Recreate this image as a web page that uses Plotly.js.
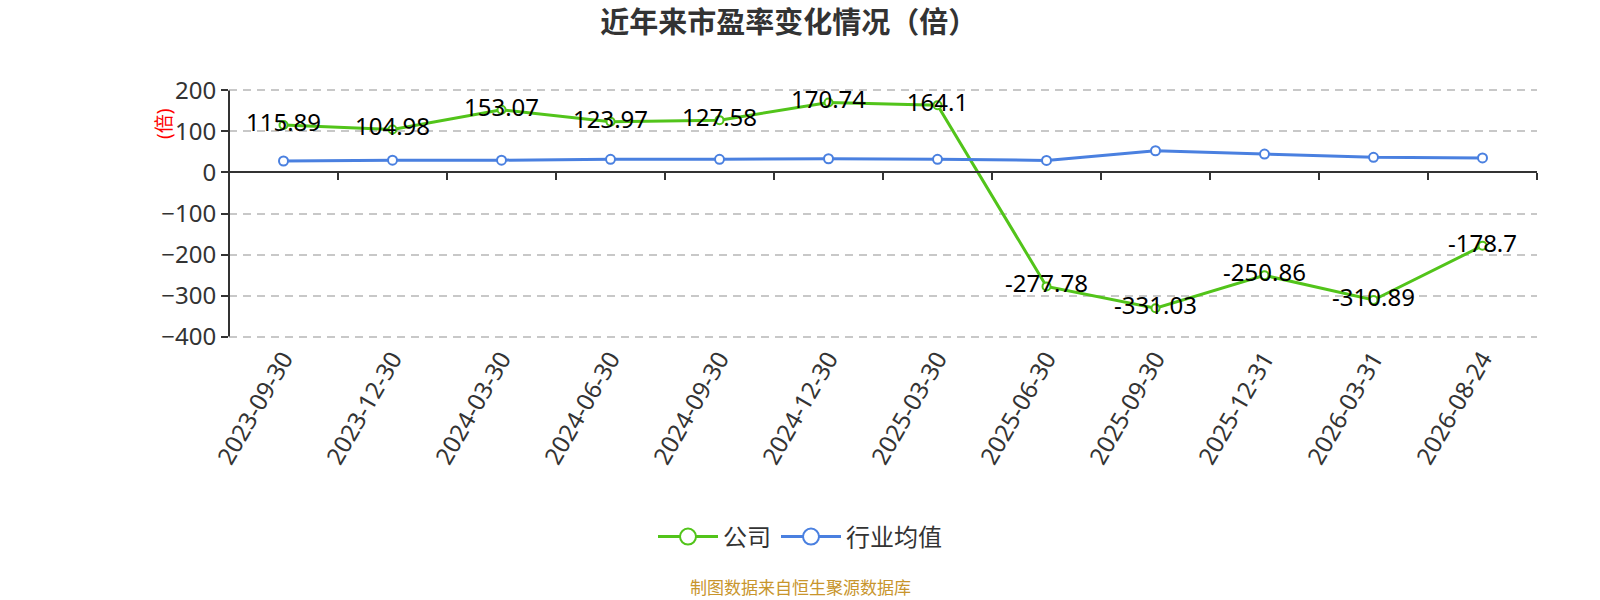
<!DOCTYPE html>
<html>
<head>
<meta charset="utf-8">
<script src="https://cdn.plot.ly/plotly-3.0.1.min.js"></script>
<style>
  html,body{margin:0;padding:0;background:#fff;}
  #chart{width:1600px;height:600px;}
</style>
</head>
<body>
<div id="chart"></div>
<script>
// dates along the x axis
const dates = ["2023-09-30","2023-12-30","2024-03-30","2024-06-30","2024-09-30","2024-12-30",
               "2025-03-30","2025-06-30","2025-09-30","2025-12-31","2026-03-31","2026-08-24"];
// company PE
const company = [115.89,104.98,153.07,123.97,127.58,170.74,164.1,-277.78,-331.03,-250.86,-310.89,-178.7];
// industry average PE
const industry = [28,30,30,32,32,33.5,32,29.5,53,45,37,35.5];

const yTicks = [-400,-300,-200,-100,0,100,200];
// a little padding so plotly keeps the end gridlines
const yMin = -406, yMax = 206;

const green = "#52c41a";
const blue = "#4a80e0";
const font = "Noto Sans, Noto Sans CJK SC, sans-serif";

let traces = [
  {x:dates, y:company, name:"公司", type:"scatter", mode:"lines+markers+text",
   line:{color:green,width:3}, showlegend:false,
   marker:{symbol:"circle",size:8,color:"#fff",line:{color:green,width:2}},
   text:company.map(v=>String(v)), textposition:"middle center",
   textfont:{family:font,size:24,color:"#000"}, hoverinfo:"x+y"},
  {x:dates, y:industry, name:"行业均值", type:"scatter", mode:"lines+markers",
   line:{color:blue,width:3}, showlegend:false,
   marker:{symbol:"circle",size:9,color:"#fff",line:{color:blue,width:2}}, hoverinfo:"x+y"},
  // legend entries with the bigger symbol
  {x:[null], y:[null], xaxis:"x2", name:"公司", type:"scatter", mode:"lines+markers",
   line:{color:green,width:3}, marker:{symbol:"circle",size:16,color:"#fff",line:{color:green,width:2}}},
  {x:[null], y:[null], xaxis:"x2", name:"行业均值", type:"scatter", mode:"lines+markers",
   line:{color:blue,width:3}, marker:{symbol:"circle",size:16,color:"#fff",line:{color:blue,width:2}}}
];

let layout = {
  width:1600, height:600,
  margin:{l:229, r:63, t:88, b:261},
  paper_bgcolor:"#fff", plot_bgcolor:"#fff",
  font:{family:font, color:"#333"},
  title:{text:"近年来市盈率变化情况（倍）", x:0.493, xanchor:"center", y:0.962, yanchor:"middle",
         font:{family:font,size:29,color:"#333",weight:"bold"}},
  xaxis:{type:"category", range:[-0.5,11.5], showline:false, showgrid:false, zeroline:false,
         ticks:"", tickangle:-60, tickfont:{size:24,color:"#333"}},
  xaxis2:{overlaying:"x", anchor:"free", position:(0-yMin)/(yMax-yMin), type:"linear", range:[-0.5,11.5],
          tick0:-0.5, dtick:1, ticks:"outside", ticklen:7, tickwidth:2, tickcolor:"#333",
          showline:true, linecolor:"#333", linewidth:2, showgrid:false, zeroline:false,
          showticklabels:false},
  yaxis:{range:[yMin,yMax], tickvals:yTicks, showline:false,
         ticks:"outside", ticklen:7, tickwidth:2, tickcolor:"#333",
         gridcolor:"#c8c8c8", griddash:"8px,6px", gridwidth:1.5, zeroline:false,
         tickfont:{size:24,color:"#333"}},
  shapes:[
    // y axis line between the end ticks
    {type:"line", xref:"paper", yref:"y", x0:0, x1:0, y0:-400, y1:200,
     line:{color:"#333",width:2}}
  ],
  legend:{orientation:"h", xref:"container", yref:"container", x:0.5, xanchor:"center",
          y:0.105, yanchor:"middle", font:{size:24,color:"#333"}, itemwidth:60},
  annotations:[
    {text:"(倍)", xref:"paper", yref:"paper", x:(164-229)/1308, y:(339-124)/251,
     xanchor:"center", yanchor:"middle", textangle:-90, showarrow:false,
     font:{size:19,color:"#ff0000"}},
    {text:"制图数据来自恒生聚源数据库", xref:"paper", yref:"paper", x:(800-229)/1308,
     y:(339-587)/251, xanchor:"center", yanchor:"middle", showarrow:false,
     font:{size:17,color:"#c8952c"}}
  ],
  showlegend:true
};

Plotly.newPlot("chart", traces, layout, {displayModeBar:false});
</script>
</body>
</html>
